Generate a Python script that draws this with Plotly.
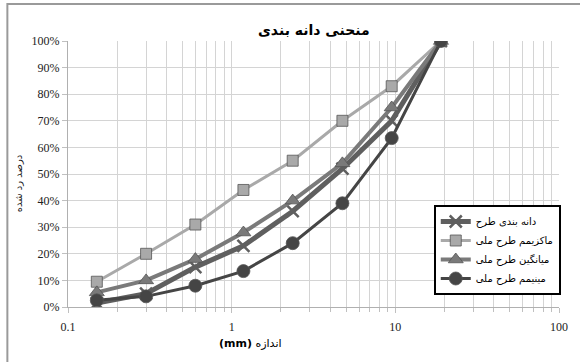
import plotly.graph_objects as go

# Sieve sizes (mm) and percent passing for each gradation curve
sieve_mm = [0.15, 0.3, 0.6, 1.18, 2.36, 4.75, 9.5, 19]
design = [0.015, 0.05, 0.15, 0.23, 0.36, 0.52, 0.70, 1.00]
spec_max = [0.095, 0.20, 0.31, 0.44, 0.55, 0.70, 0.83, 1.00]
spec_avg = [0.055, 0.10, 0.18, 0.28, 0.40, 0.54, 0.75, 1.00]
spec_min = [0.025, 0.04, 0.08, 0.135, 0.24, 0.39, 0.635, 1.00]

names = ["دانه بندی طرح", "ماکزیمم طرح ملی", "میانگین طرح ملی", "مینیمم طرح ملی"]
y_ticks = [i / 10 for i in range(11)]
x_ticks = [0.1, 1, 10, 100]
# intermediate log gridlines (2..9 in each decade)
x_minor = [m * d for d in (0.1, 1, 10) for m in range(2, 10)]

W, H = 580, 362
L, R, T, B = 68, 18, 41, 55
pw, ph = W - L - R, H - T - B


def px_x(x):
    return (x - L) / pw


def px_y(y):
    return (H - B - y) / ph


fig = go.Figure()

styles = [
    dict(y=design, color="#5f5f5f", width=5, symbol="x-thin", size=12, mlw=2.5),
    dict(y=spec_max, color="#a9a9a9", width=3, symbol="square", size=11, mlw=0.8),
    dict(y=spec_avg, color="#7a7a7a", width=4, symbol="triangle-up", size=13, mlw=0.8),
    dict(y=spec_min, color="#454545", width=3, symbol="circle", size=13, mlw=0.8),
]
for name, s in zip(names, styles):
    if s["symbol"] == "x-thin":
        marker = dict(symbol="x-thin", size=s["size"], color=s["color"],
                      line=dict(color=s["color"], width=s["mlw"]))
    else:
        marker = dict(symbol=s["symbol"], size=s["size"], color=s["color"],
                      line=dict(color="#555555", width=s["mlw"]))
    fig.add_trace(go.Scatter(
        x=sieve_mm, y=s["y"], name=name, mode="lines+markers",
        line=dict(color=s["color"], width=s["width"]), marker=marker,
    ))

# Gray outer frame of the chart area
fig.add_shape(type="rect", xref="paper", yref="paper",
              x0=px_x(7), x1=px_x(590), y0=px_y(370), y1=px_y(4),
              line=dict(color="#9a9a9a", width=2), fillcolor="rgba(0,0,0,0)",
              layer="below")

fig.add_annotation(text="<b>منحنی دانه بندی</b>", xref="paper", yref="paper",
                   x=0.5, y=px_y(30), xanchor="center", yanchor="middle",
                   showarrow=False,
                   font=dict(family="DejaVu Sans", size=14, color="#000000"))
fig.add_annotation(text="<b>(mm)</b> اندازه", xref="paper", yref="paper",
                   x=px_x(252), y=px_y(343), xanchor="center", yanchor="middle",
                   showarrow=False,
                   font=dict(family="DejaVu Sans", size=11, color="#000000"))
fig.add_annotation(text="درصد رد شده", xref="paper", yref="paper",
                   x=px_x(18), y=px_y(183), xanchor="center", yanchor="middle",
                   showarrow=False, textangle=-90,
                   font=dict(family="DejaVu Sans", size=10, color="#222222"))

fig.update_layout(
    width=W, height=H,
    margin=dict(l=L, r=R, t=T, b=B),
    paper_bgcolor="white", plot_bgcolor="white",
    font=dict(family="Liberation Serif", size=12, color="#222222"),
    showlegend=True,
    legend=dict(
        x=px_x(436), y=px_y(205), xanchor="left", yanchor="top",
        bgcolor="white", bordercolor="#000000", borderwidth=2,
        font=dict(family="DejaVu Serif, DejaVu Sans", size=10, color="#000000"),
        tracegroupgap=0, itemwidth=30,
    ),
    xaxis=dict(
        type="log", range=[-1, 2],
        tickvals=x_ticks, ticktext=[str(v) for v in x_ticks],
        showgrid=True, gridcolor="#d4d4d4", gridwidth=1,
        minor=dict(tickvals=x_minor, showgrid=True, gridcolor="#d4d4d4",
                   gridwidth=1, ticks="outside", ticklen=4, tickcolor="#c0c0c0"),
        ticks="outside", ticklen=5, tickcolor="#c0c0c0",
        showline=True, linecolor="#b0b0b0", linewidth=1,
        zeroline=False, ticklabelstandoff=4,
        tickfont=dict(family="Liberation Serif", size=12, color="#222222"),
    ),
    yaxis=dict(
        range=[0, 1], tickvals=y_ticks, tickformat=".0%",
        showgrid=True, gridcolor="#d4d4d4", gridwidth=1,
        ticks="outside", ticklen=5, tickcolor="#c0c0c0",
        showline=True, linecolor="#b0b0b0", linewidth=1,
        zeroline=False,
        tickfont=dict(family="Liberation Serif", size=12, color="#222222"),
    ),
)

fig.write_html("out.html")
